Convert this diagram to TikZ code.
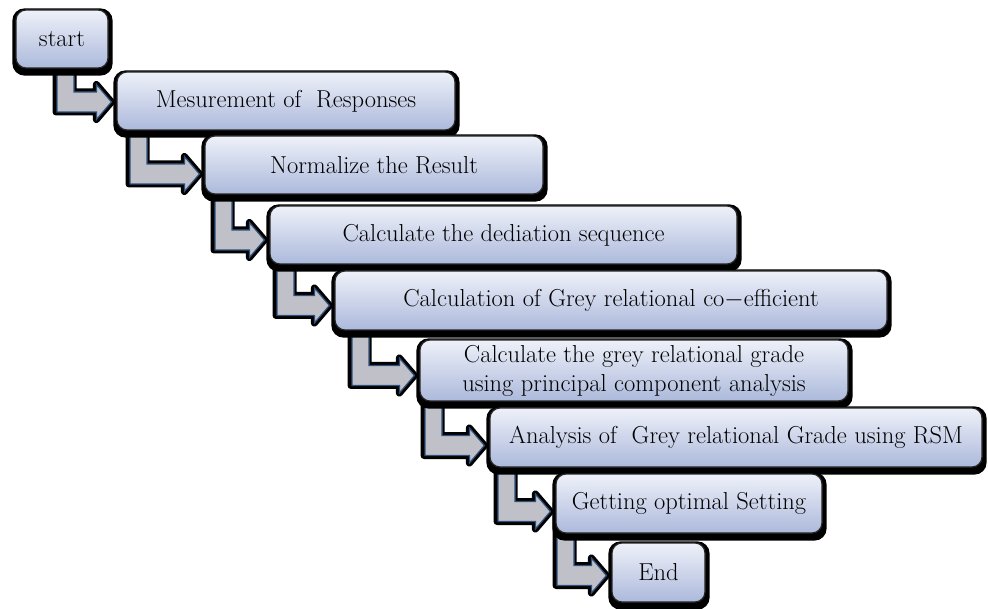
\documentclass[tikz,border=0pt]{standalone}
\usetikzlibrary{calc}
\pgfdeclarelayer{arrows}
\pgfdeclarelayer{shadows}
\pgfsetlayers{arrows,shadows,main}
\definecolor{boxtop}{RGB}{238,241,249}
\definecolor{boxbot}{RGB}{172,185,219}
\definecolor{arrowgrey}{RGB}{192,193,200}
\definecolor{arrowblue}{RGB}{45,80,125}
\tikzset{
  stepbox/.style={rounded corners=10pt, draw=black!85, line width=1.2pt,
    top color=boxtop, bottom color=boxbot, inner sep=0pt, align=center,
    font=\fontsize{24.5}{29}\selectfont},
  boxshadow/.style={fill=black, rounded corners=12pt},
  arrowout/.style={draw=black, line width=7pt, line join=round},
  arrowin/.style={fill=arrowgrey, draw=arrowblue, line width=1.2pt, line join=miter},
}
\newcommand\arrowpath[4]{let \p1=([xshift=-5pt,yshift=-#4pt]#3.west), \p2=(#2.center) in
  (#1pt,\y2) -- (#1pt+17pt,\y2) -- (#1pt+17pt,\y1+10pt) -- (\x1-15pt,\y1+10pt)
  -- (\x1-15pt,\y1+17.5pt) -- (\x1,\y1) -- (\x1-15pt,\y1-17.5pt) -- (\x1-15pt,\y1-10pt)
  -- (#1pt,\y1-10pt) -- cycle}
\newcommand\bentarrow[4]{%
  \begin{pgfonlayer}{arrows}
    \path[arrowout, xshift=-1pt, yshift=-1.5pt] \arrowpath{#1}{#2}{#3}{#4};
    \path[arrowin] \arrowpath{#1}{#2}{#3}{#4};
  \end{pgfonlayer}}
\newcommand\boxshadow[1]{%
  \begin{pgfonlayer}{shadows}
    \fill[boxshadow] ([shift={(-3pt,1pt)}]#1.north west) rectangle ([shift={(4pt,-7pt)}]#1.south east);
  \end{pgfonlayer}}
\begin{document}
\begin{tikzpicture}[x=1pt,y=1pt]
\useasboundingbox (0,0) rectangle (988,-609);
\node[stepbox, minimum width=92pt, minimum height=58pt] (b1) at (62,-39) {start};
\node[stepbox, minimum width=338pt, minimum height=58pt] (b2) at (286,-101) {Mesurement of\ \ Responses};
\node[stepbox, minimum width=338pt, minimum height=58pt] (b3) at (374,-165) {Normalize the Result};
\node[stepbox, minimum width=467pt, minimum height=58pt] (b4) at (503.5,-235) {Calculate the dediation sequence};
\node[stepbox, minimum width=552pt, minimum height=59pt] (b5) at (611,-300.5) {Calculation of Grey relational co$-$efficient};
\node[stepbox, minimum width=428pt, minimum height=61pt] (b6) at (634,-370.5) {Calculate the grey relational grade\\using principal component analysis};
\node[stepbox, minimum width=492pt, minimum height=59pt] (b7) at (736,-437.5) {Analysis of\ \ Grey relational Grade using RSM};
\node[stepbox, minimum width=266pt, minimum height=59pt] (b8) at (689,-503.5) {Getting optimal Setting};
\node[stepbox, minimum width=93pt, minimum height=59pt] (b9) at (658.5,-572.5) {End};
\foreach \b in {b1,b2,b3,b4,b5,b6,b7,b8,b9}{\boxshadow{\b}}
\bentarrow{57}{b1}{b2}{1}
\bentarrow{130}{b2}{b3}{9}
\bentarrow{215}{b3}{b4}{5}
\bentarrow{277}{b4}{b5}{5}
\bentarrow{352}{b5}{b6}{5}
\bentarrow{425}{b6}{b7}{8}
\bentarrow{498}{b7}{b8}{8}
\bentarrow{557}{b8}{b9}{3}
\end{tikzpicture}
\end{document}
